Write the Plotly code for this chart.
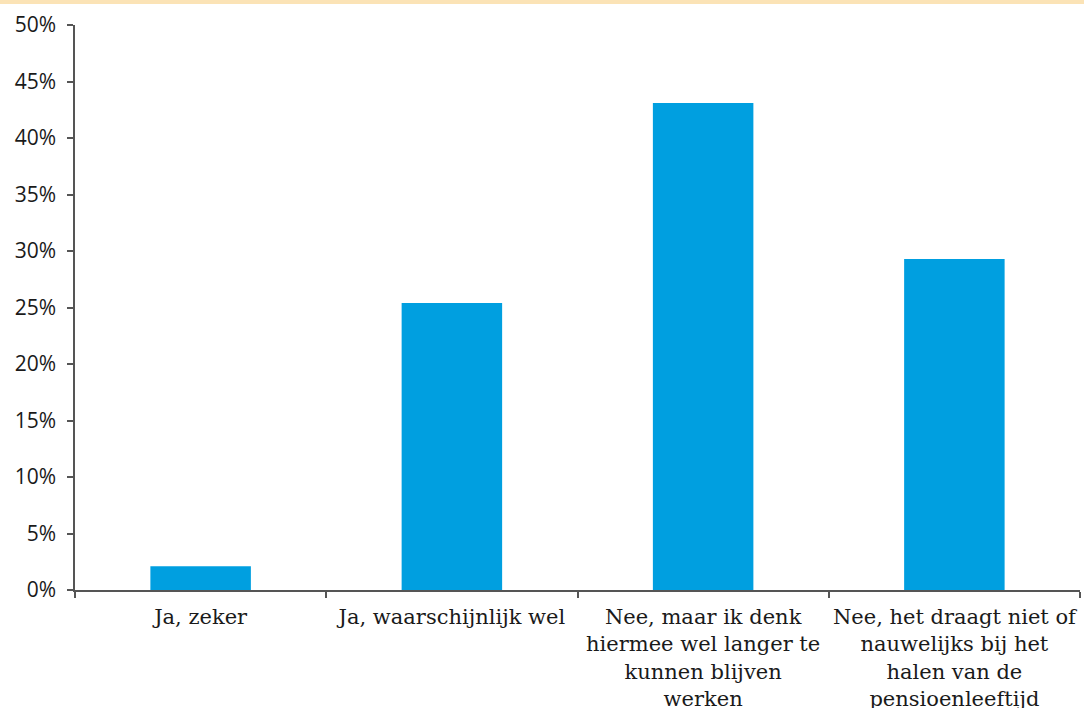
import plotly.graph_objects as go

categories = [
    "Ja, zeker",
    "Ja, waarschijnlijk wel",
    "Nee, maar ik denk<br>hiermee wel langer te<br>kunnen blijven<br>werken",
    "Nee, het draagt niet of<br>nauwelijks bij het<br>halen van de<br>pensioenleeftijd",
]
values = [0.021, 0.254, 0.431, 0.293]
y_ticks = [0, 0.05, 0.10, 0.15, 0.20, 0.25, 0.30, 0.35, 0.40, 0.45, 0.50]
y_tick_labels = ["0%", "5%", "10%", "15%", "20%", "25%", "30%", "35%", "40%", "45%", "50%"]

fig = go.Figure(
    go.Bar(
        x=categories,
        y=values,
        marker=dict(color="#009FE0", line=dict(width=0)),
        width=0.4,
    )
)

axis_color = "#555555"

fig.update_layout(
    width=1084,
    height=708,
    margin=dict(l=75, r=4, t=25, b=118),
    paper_bgcolor="white",
    plot_bgcolor="white",
    showlegend=False,
    shapes=[
        dict(type="rect", xref="paper", yref="paper", x0=-1, x1=2,
             y0=1 + 21 / 565, y1=1 + 25 / 565,
             fillcolor="#FBE3B6", line=dict(width=0)),
    ],
)

fig.update_xaxes(
    showline=True,
    linecolor=axis_color,
    linewidth=1.5,
    ticks="outside",
    tickson="boundaries",
    ticklen=6,
    tickcolor=axis_color,
    tickwidth=1.5,
    showgrid=False,
    tickangle=0,
    automargin=False,
    ticklabelstandoff=7,
    tickfont=dict(family="DejaVu Serif", size=21, color="#1a1a1a"),
)

fig.update_yaxes(
    range=[0, 0.5],
    tickvals=y_ticks,
    ticktext=y_tick_labels,
    showline=True,
    linecolor=axis_color,
    linewidth=1.5,
    ticks="outside",
    ticklen=6,
    tickcolor=axis_color,
    tickwidth=1.5,
    showgrid=False,
    zeroline=False,
    automargin=False,
    ticklabelstandoff=7,
    tickfont=dict(family="Open Sans", size=21, color="#1a1a1a"),
)

fig.write_html("out.html")
